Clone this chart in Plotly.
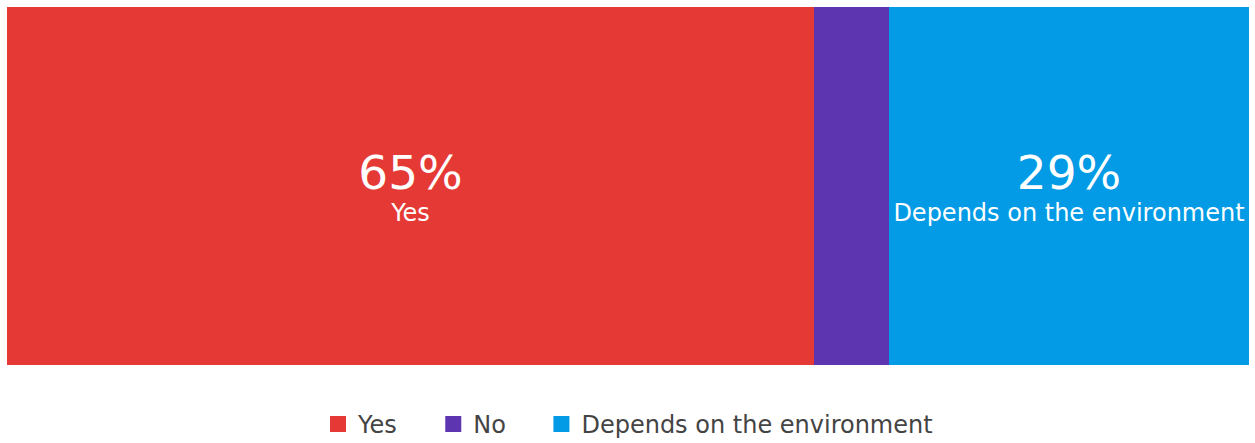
import plotly.graph_objects as go

categories = ["Yes", "No", "Depends on the environment"]
values = [65, 6, 29]
colors = ["#E53935", "#5E35B1", "#039BE5"]
show_label = [True, False, True]

FONT = "DejaVu Sans"
PAD = "\u00a0" * 4

fig = go.Figure()
for cat, val, col, lab in zip(categories, values, colors, show_label):
    fig.add_trace(go.Bar(
        y=["q"], x=[val], name=cat, orientation="h",
        marker=dict(color=col, line=dict(width=0)),
        text=[f"<span style='font-size:47px'>{val}%</span><br>{cat}" if lab else ""],
        textposition="inside", insidetextanchor="middle", constraintext="none",
        textfont=dict(color="white", size=24, family=FONT),
        hoverinfo="skip", showlegend=False,
    ))
# legend entries
for i, (cat, col) in enumerate(zip(categories, colors)):
    fig.add_trace(go.Scatter(
        x=[None], y=[None], mode="markers",
        name=cat + (PAD if i < len(categories) - 1 else ""),
        marker=dict(color=col, symbol="square", size=26),
        hoverinfo="skip",
    ))

fig.update_layout(
    barmode="stack", bargap=0,
    width=1255, height=443,
    margin=dict(l=7, r=6, t=7, b=78, autoexpand=False),
    paper_bgcolor="white", plot_bgcolor="white",
    xaxis=dict(visible=False, range=[0, 100], fixedrange=True),
    yaxis=dict(visible=False, fixedrange=True),
    legend=dict(orientation="h", x=0.5, xanchor="center", y=-0.103, yanchor="top",
                font=dict(family=FONT, size=24, color="#444444"),
                traceorder="normal", itemwidth=30),
    font=dict(family=FONT),
)
fig.write_html("out.html")
